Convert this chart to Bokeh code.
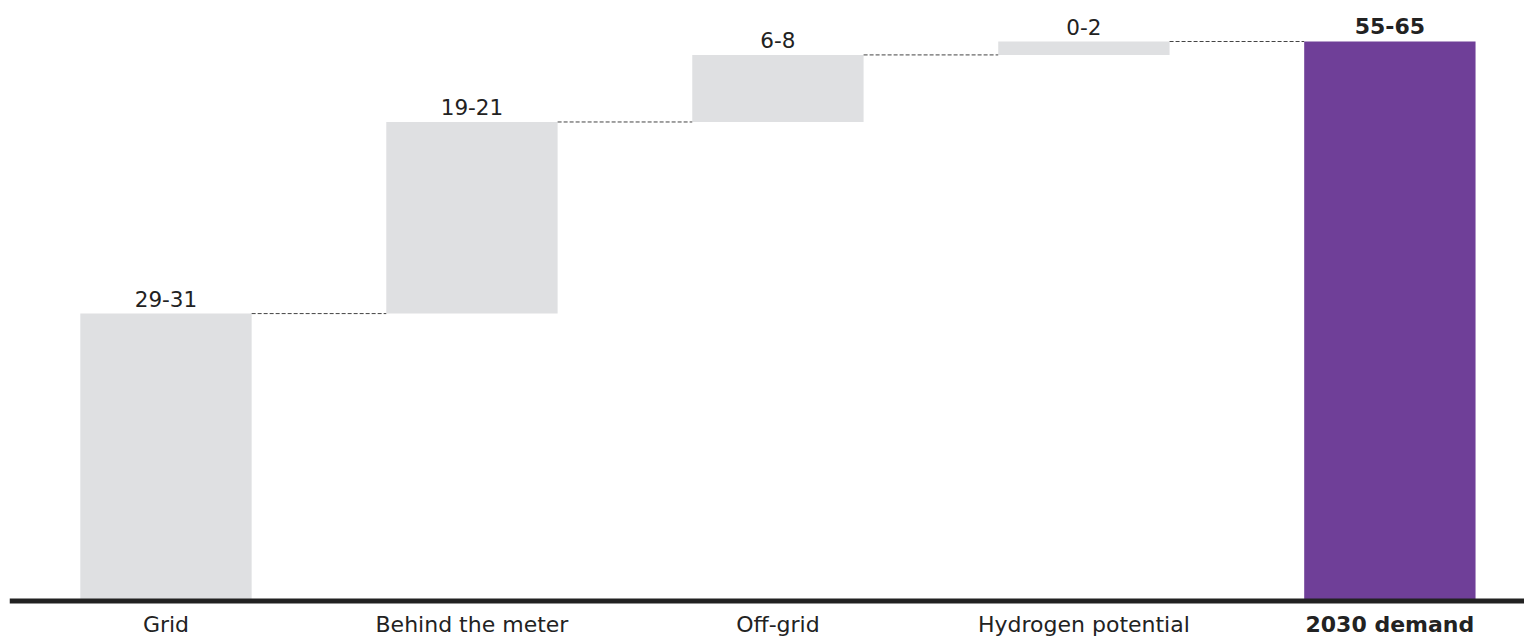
import numpy as np
from bokeh.plotting import figure
from bokeh.models import ColumnDataSource, Range1d, Span
from bokeh.core.properties import value
from bokeh.embed import file_html
from bokeh.resources import INLINE

categories = ["Grid", "Behind the meter", "Off-grid", "Hydrogen potential", "2030 demand"]
increments = [30.0, 20.0, 7.0, 1.4]
range_labels = ["29-31", "19-21", "6-8", "0-2", "55-65"]

GRAY = "#dfe0e2"
PURPLE = "#6f3f98"
INK = "#222222"
BAR_W = 0.56

n = len(categories)
xs = np.arange(n, dtype=float)
total = float(sum(increments))
tops_cum = np.cumsum(increments)
bottoms = np.concatenate([[0.0], tops_cum[:-1], [0.0]])
tops = np.concatenate([tops_cum, [total]])
colors = [GRAY] * (n - 1) + [PURPLE]

p = figure(width=1524, height=636, output_backend="svg", toolbar_location=None,
           x_range=Range1d(-0.5114, 4.44), y_range=Range1d(-3.706, 62.68),
           min_border=0, min_border_left=9, min_border_right=0,
           min_border_top=0, min_border_bottom=0)
p.axis.visible = False
p.grid.visible = False
p.outline_line_color = None
p.background_fill_color = "white"
p.border_fill_color = "white"

src = ColumnDataSource(dict(x=xs, bottom=bottoms, top=tops, color=colors,
                            label=range_labels, cat=categories))
p.vbar(x="x", bottom="bottom", top="top", width=BAR_W, fill_color="color",
       line_color=None, source=src)

# dashed connectors from each bar's top to the next bar
cx0 = xs[:-1] + BAR_W / 2
cx1 = xs[1:] - BAR_W / 2
cy = tops[:-1]
p.segment(x0=cx0, y0=cy, x1=cx1, y1=cy, line_color="#444444", line_width=1,
          line_dash="4 2")

# baseline
p.add_layout(Span(location=0, dimension="width", line_color=INK, line_width=5))

# value labels
reg = list(range(n - 1))
p.text(x=xs[reg], y=tops[reg], text=[range_labels[i] for i in reg],
       text_align="center", text_baseline="alphabetic", y_offset=-15,
       text_font=value("DejaVu Sans"), text_font_size="21.5px", text_color=INK)
p.text(x=[xs[-1]], y=[tops[-1]], text=[range_labels[-1]],
       text_align="center", text_baseline="alphabetic", y_offset=-16,
       text_font=value("DejaVu Sans"), text_font_style="bold",
       text_font_size="22px", text_color=INK)

# category labels
p.text(x=xs[reg], y=[0] * len(reg), text=[categories[i] for i in reg],
       text_align="center", text_baseline="alphabetic", y_offset=24,
       text_font=value("DejaVu Sans"), text_font_size="22px", text_color=INK)
p.text(x=[xs[-1]], y=[0], text=[categories[-1]],
       text_align="center", text_baseline="alphabetic", y_offset=24,
       text_font=value("DejaVu Sans"), text_font_style="bold",
       text_font_size="22px", text_color=INK)

open("out.html", "w").write(file_html(p, INLINE))
